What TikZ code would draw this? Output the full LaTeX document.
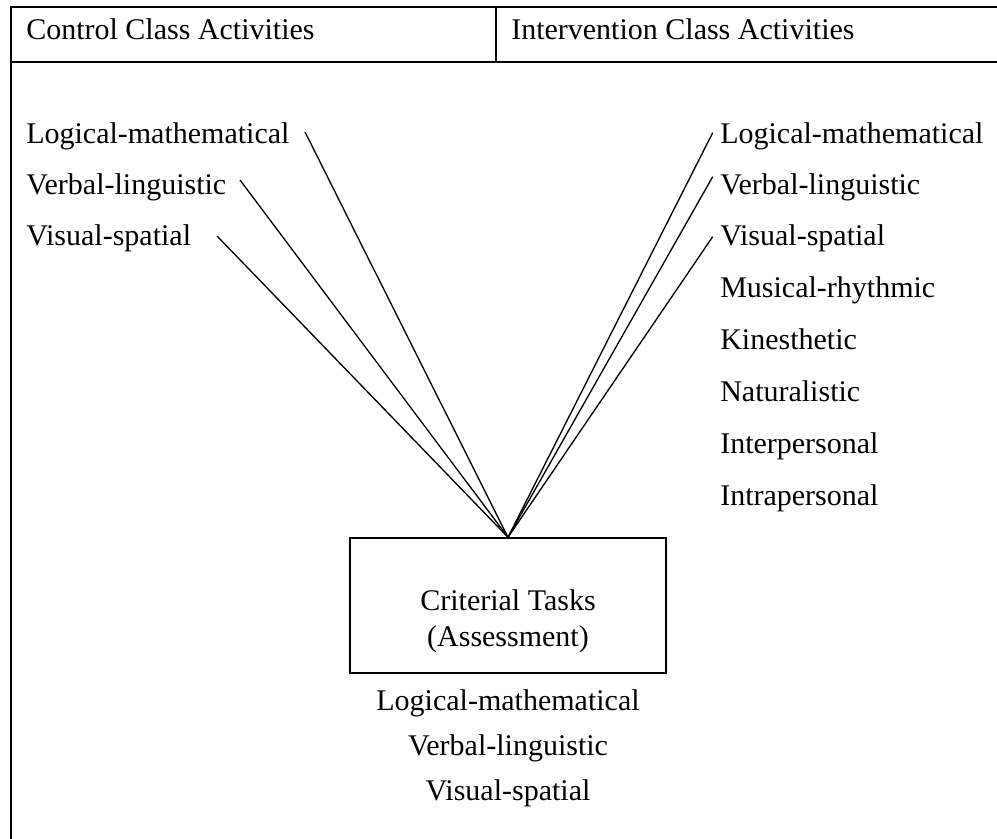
\documentclass[tikz,border=0pt]{standalone}
\usepackage{fontspec}
\setmainfont{Liberation Serif}
\begin{document}
\begin{tikzpicture}[x=0.75pt,y=-0.75pt,
  frame/.style={line width=1.5pt},
  conn/.style={line width=1pt},
  lbl/.style={anchor=base west,inner sep=0pt,font=\fontsize{22.5}{27}\selectfont},
  clbl/.style={anchor=base,inner sep=0pt,font=\fontsize{22.5}{27}\selectfont},
  critbox/.style={draw,line width=1.1pt,rectangle,minimum width=237pt,minimum height=101.25pt,inner sep=0pt}]
\useasboundingbox (0,0) rectangle (997,839);
\clip (0,0) rectangle (997,839);
\fill[white] (0,0) rectangle (997,839);
% table frame
\coordinate (tl) at (11,7);
\coordinate (tr) at (1010,7);
\coordinate (bl) at (11,850);
\coordinate (ml) at (11,62);
\coordinate (mr) at (1010,62);
\coordinate (vt) at (496,7);
\coordinate (vb) at (496,62);
\draw[frame] (tr) -- (tl) -- (bl);
\draw[frame] (ml) -- (mr);
\draw[frame] (vt) -- (vb);
% headers
\node[lbl] (hc) at (26,39) {Control Class Activities};
\node[lbl] (hi) at (511,39) {Intervention Class Activities};
% left labels
\node[lbl] (l1) at (26,143) {Logical-mathematical};
\node[lbl] (l2) at (26,194) {Verbal-linguistic};
\node[lbl] (l3) at (26,245) {Visual-spatial};
% right labels
\node[lbl] (r1) at (720,143) {Logical-mathematical};
\node[lbl] (r2) at (720,194) {Verbal-linguistic};
\node[lbl] (r3) at (720,245) {Visual-spatial};
\node[lbl] (r4) at (720,297) {Musical-rhythmic};
\node[lbl] (r5) at (720,349) {Kinesthetic};
\node[lbl] (r6) at (720,401) {Naturalistic};
\node[lbl] (r7) at (720,453) {Interpersonal};
\node[lbl] (r8) at (720,505) {Intrapersonal};
% box
\node[critbox] (crit) at (508,605.5) {};
\node[clbl,align=center] (crittext) at (508,646) {Criterial Tasks\\[-0.6pt](Assessment)};
% bottom labels
\node[clbl] (b1) at (508,710) {Logical-mathematical};
\node[clbl] (b2) at (508,755) {Verbal-linguistic};
\node[clbl] (b3) at (508,800) {Visual-spatial};
% line ends
\coordinate (apex) at (crit.north);
\coordinate (sl1) at (305,132);
\coordinate (sl2) at (240,180);
\coordinate (sl3) at (217,236);
\coordinate (sr1) at (712.7,132.7);
\coordinate (sr2) at (712.7,176.7);
\coordinate (sr3) at (712.7,236.7);
\draw[conn] (sl1) -- (apex);
\draw[conn] (sl2) -- (apex);
\draw[conn] (sl3) -- (apex);
\draw[conn] (sr1) -- (apex);
\draw[conn] (sr2) -- (apex);
\draw[conn] (sr3) -- (apex);
\end{tikzpicture}
\end{document}
